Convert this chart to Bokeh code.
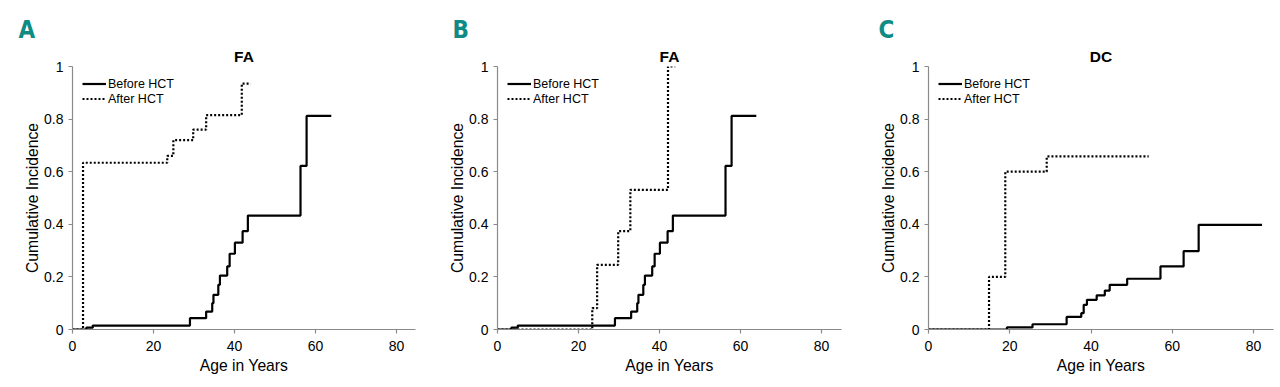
from bokeh.plotting import figure
from bokeh.layouts import row
from bokeh.models import (Range1d, FixedTicker, CustomJSTickFormatter, Legend, LegendItem, Title)
from bokeh.embed import file_html
from bokeh.resources import INLINE

# ---------------- data ----------------
panel_letters = ["A", "B", "C"]
panel_titles = ["FA", "FA", "DC"]
series_names = ["Before HCT", "After HCT"]
x_ticks = [0, 20, 40, 60, 80]
y_ticks = [0, 0.2, 0.4, 0.6, 0.8, 1]

# FA, before HCT (same curve in panels A and B)
fa_before_age = [0, 3.4, 5.0, 29.0, 33.0, 34.5, 34.8, 36.0, 36.4, 38.2, 38.8, 40.1, 42.0, 43.3, 56.3, 57.8, 63.9]
fa_before_ci = [0, 0.007, 0.015, 0.043, 0.068, 0.10, 0.132, 0.17, 0.205, 0.24, 0.288, 0.33, 0.374, 0.433, 0.622, 0.812, 0.812]

# Panel A, after HCT
a_after_age = [0, 2.6, 23.4, 24.9, 29.8, 33.0, 41.8, 44.0]
a_after_ci = [0, 0.634, 0.66, 0.72, 0.76, 0.815, 0.935, 0.935]

# Panel B, after HCT
b_after_age = [0, 23.4, 24.6, 29.8, 32.8, 42.1, 43.9]
b_after_ci = [0, 0.081, 0.246, 0.374, 0.531, 1.0, 1.0]

# DC, before HCT
dc_before_age = [0, 19.3, 25.6, 34.0, 37.6, 38.2, 39.0, 41.4, 43.4, 44.6, 48.9, 57.1, 62.8, 66.5, 82.1]
dc_before_ci = [0, 0.008, 0.02, 0.048, 0.062, 0.094, 0.113, 0.13, 0.148, 0.17, 0.193, 0.24, 0.298, 0.398, 0.398]

# DC, after HCT
dc_after_age = [0, 14.9, 18.9, 29.1, 54.2]
dc_after_ci = [0, 0.2, 0.6, 0.658, 0.658]

panels = [
    (fa_before_age, fa_before_ci, a_after_age, a_after_ci),
    (fa_before_age, fa_before_ci, b_after_age, b_after_ci),
    (dc_before_age, dc_before_ci, dc_after_age, dc_after_ci),
]

# ---------------- layout ----------------
FONT = "Liberation Sans"
LETTER_FONT = "'DejaVu Sans Condensed', 'Roboto', sans-serif"
widths = [436, 426, 418]
borders_left = [72, 61, 66]
borders_right = [21, 21, 7]
px_per_year = [4.05, 4.05, 4.0625]
letter_dx = [-54, -45, -50]
H, BT, BB = 379, 66, 50
AXIS_COLOR = "#8a8a8a"

figs = []
for i in range(3):
    w = widths[i]
    fw = w - borders_left[i] - borders_right[i]
    xmax = fw / px_per_year[i]
    p = figure(width=w, height=H, output_backend="svg", toolbar_location=None,
               x_range=Range1d(0, xmax), y_range=Range1d(0, 1),
               min_border_left=borders_left[i], min_border_right=borders_right[i],
               min_border_top=BT, min_border_bottom=BB)
    p.grid.visible = False
    p.outline_line_color = None
    p.background_fill_color = "white"
    p.border_fill_color = "white"

    # panel letter (outermost title)
    p.title.text = panel_letters[i]
    p.title.align = "left"
    p.title.offset = letter_dx[i]
    p.title.text_font = LETTER_FONT
    p.title.text_font_style = "bold"
    p.title.text_font_size = "24px"
    p.title.text_color = "#0f8a84"
    p.title.standoff = 0

    # panel title (closest to the frame)
    p.add_layout(Title(text=panel_titles[i], align="center", text_font=FONT,
                       text_font_style="bold", text_font_size="15.5px",
                       text_color="black", standoff=4), "above")

    for ax in (p.xaxis[0], p.yaxis[0]):
        ax.axis_line_color = AXIS_COLOR
        ax.axis_line_width = 1.2
        ax.major_tick_line_color = AXIS_COLOR
        ax.major_tick_line_width = 1.2
        ax.major_tick_in = 0
        ax.major_tick_out = 4
        ax.minor_tick_line_color = None
        ax.major_label_text_font = FONT
        ax.major_label_text_font_size = "14px"
        ax.major_label_text_color = "black"
        ax.axis_label_text_font = FONT
        ax.axis_label_text_font_size = "15.7px"
        ax.axis_label_text_font_style = "normal"
        ax.axis_label_text_color = "black"
    p.xaxis.ticker = FixedTicker(ticks=x_ticks)
    p.yaxis.ticker = FixedTicker(ticks=y_ticks)
    p.yaxis.formatter = CustomJSTickFormatter(code="return tick.toString();")
    p.xaxis.axis_label = "Age in Years"
    p.yaxis.axis_label = "Cumulative Incidence"
    p.xaxis.major_label_standoff = 7
    p.yaxis.major_label_standoff = 5
    p.xaxis.axis_label_standoff = 3
    p.yaxis.axis_label_standoff = 0

    bx, by, ax_, ay = panels[i]
    r_before = p.step(bx, by, mode="after", line_color="black", line_width=2.2)
    r_after = p.step(ax_, ay, mode="after", line_color="black", line_width=2.2, line_dash="2 2")

    leg = Legend(items=[LegendItem(label=series_names[0], renderers=[r_before]),
                        LegendItem(label=series_names[1], renderers=[r_after])],
                 location="top_left", margin=10, padding=0, spacing=0,
                 glyph_width=24, glyph_height=15, label_height=15, label_standoff=2,
                 border_line_color=None, background_fill_alpha=0,
                 label_text_font=FONT, label_text_font_size="12.5px", label_text_color="black")
    p.add_layout(leg)
    figs.append(p)

layout = row(*figs)
open("out.html", "w").write(file_html(layout, INLINE))
